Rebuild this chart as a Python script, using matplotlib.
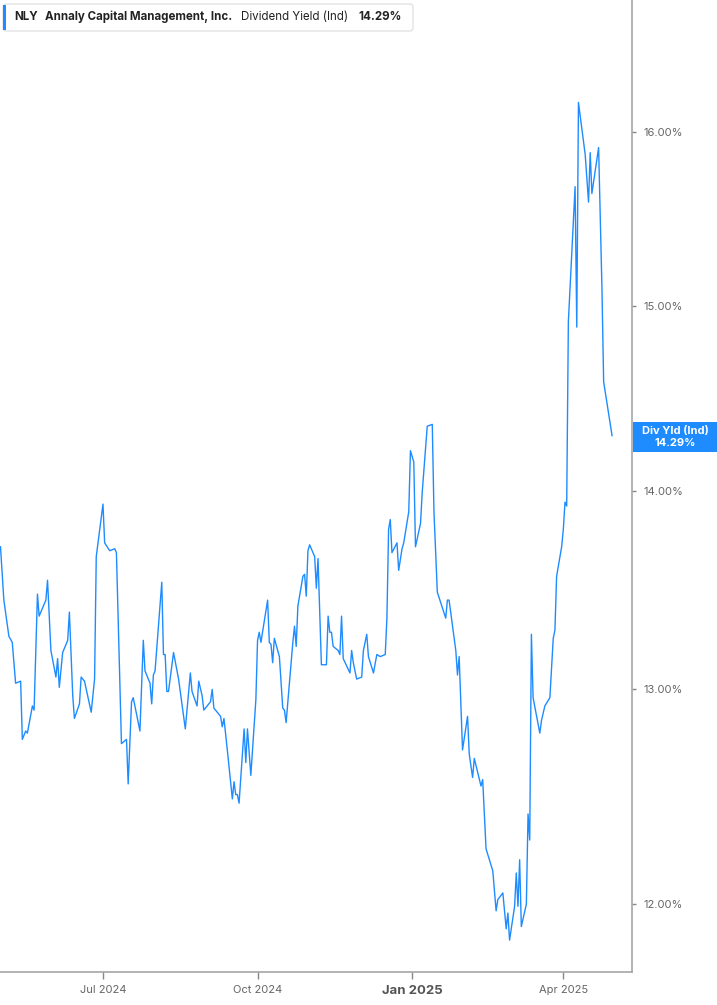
import matplotlib
matplotlib.use("Agg")
import matplotlib.pyplot as plt
import matplotlib.patches as mpatches
from matplotlib.ticker import FixedLocator, NullLocator, FuncFormatter
from matplotlib.transforms import IdentityTransform
import pandas as pd

plt.rcParams["font.family"] = ["Inter", "DejaVu Sans"]

W, H = 717, 1005
LINE_COLOR = "#1e8cff"

dates = [
    "2024-05-01", "2024-05-03", "2024-05-06", "2024-05-08", "2024-05-10", "2024-05-13", "2024-05-14",
    "2024-05-16", "2024-05-17", "2024-05-20", "2024-05-21", "2024-05-23", "2024-05-24", "2024-05-28",
    "2024-05-29", "2024-05-31", "2024-06-03", "2024-06-04", "2024-06-05", "2024-06-07", "2024-06-10",
    "2024-06-11", "2024-06-13", "2024-06-14", "2024-06-17", "2024-06-18", "2024-06-20", "2024-06-24",
    "2024-06-26", "2024-06-27", "2024-07-01", "2024-07-02", "2024-07-05", "2024-07-08", "2024-07-09",
    "2024-07-12", "2024-07-15", "2024-07-16", "2024-07-18", "2024-07-19", "2024-07-23", "2024-07-25",
    "2024-07-26", "2024-07-29", "2024-07-30", "2024-07-31", "2024-08-01", "2024-08-05", "2024-08-06",
    "2024-08-07", "2024-08-08", "2024-08-09", "2024-08-12", "2024-08-15", "2024-08-19", "2024-08-22",
    "2024-08-23", "2024-08-26", "2024-08-27", "2024-08-29", "2024-08-30", "2024-09-03", "2024-09-04",
    "2024-09-05", "2024-09-09", "2024-09-10", "2024-09-11", "2024-09-13", "2024-09-16", "2024-09-17",
    "2024-09-18", "2024-09-19", "2024-09-20", "2024-09-23", "2024-09-24", "2024-09-25", "2024-09-27",
    "2024-09-30", "2024-10-01", "2024-10-02", "2024-10-03", "2024-10-07", "2024-10-08", "2024-10-09",
    "2024-10-10", "2024-10-11", "2024-10-14", "2024-10-16", "2024-10-17", "2024-10-18", "2024-10-22",
    "2024-10-23", "2024-10-24", "2024-10-25", "2024-10-28", "2024-10-29", "2024-10-30", "2024-10-31",
    "2024-11-01", "2024-11-04", "2024-11-05", "2024-11-06", "2024-11-08", "2024-11-11", "2024-11-12",
    "2024-11-13", "2024-11-14", "2024-11-15", "2024-11-18", "2024-11-19", "2024-11-20", "2024-11-21",
    "2024-11-25", "2024-11-26", "2024-11-27", "2024-11-29", "2024-12-02", "2024-12-03", "2024-12-05",
    "2024-12-06", "2024-12-09", "2024-12-11", "2024-12-13", "2024-12-16", "2024-12-17", "2024-12-18",
    "2024-12-19", "2024-12-20", "2024-12-23", "2024-12-24", "2024-12-26", "2024-12-27", "2024-12-30",
    "2024-12-31", "2025-01-02", "2025-01-03", "2025-01-06", "2025-01-07", "2025-01-10", "2025-01-13",
    "2025-01-14", "2025-01-16", "2025-01-21", "2025-01-22", "2025-01-23", "2025-01-27", "2025-01-28",
    "2025-01-29", "2025-01-31", "2025-02-03", "2025-02-04", "2025-02-06", "2025-02-07", "2025-02-11",
    "2025-02-12", "2025-02-14", "2025-02-18", "2025-02-20", "2025-02-21", "2025-02-24", "2025-02-26",
    "2025-02-27", "2025-02-28", "2025-03-03", "2025-03-04", "2025-03-05", "2025-03-06", "2025-03-07",
    "2025-03-10", "2025-03-11", "2025-03-12", "2025-03-13", "2025-03-14", "2025-03-18", "2025-03-19",
    "2025-03-21", "2025-03-24", "2025-03-26", "2025-03-27", "2025-03-28", "2025-03-31", "2025-04-01",
    "2025-04-02", "2025-04-03", "2025-04-04", "2025-04-08", "2025-04-09", "2025-04-10", "2025-04-14",
    "2025-04-16", "2025-04-17", "2025-04-18", "2025-04-22", "2025-04-24", "2025-04-25", "2025-04-30",
]

div_yield = [
    13.71, 13.44, 13.26, 13.23, 13.03, 13.04, 12.76,
    12.80, 12.79, 12.92, 12.90, 13.47, 13.36, 13.44,
    13.54, 13.19, 13.06, 13.15, 13.01, 13.18, 13.24,
    13.38, 12.97, 12.86, 12.93, 13.06, 13.04, 12.89,
    13.05, 13.66, 13.93, 13.73, 13.69, 13.70, 13.68,
    12.74, 12.76, 12.55, 12.94, 12.96, 12.80, 13.24,
    13.09, 13.03, 12.93, 13.07, 13.09, 13.53, 13.17,
    13.17, 12.99, 12.99, 13.18, 13.05, 12.81, 13.08,
    12.99, 12.92, 13.04, 12.97, 12.90, 12.94, 13.00,
    12.91, 12.87, 12.82, 12.86, 12.71, 12.48, 12.56,
    12.50, 12.50, 12.46, 12.81, 12.65, 12.81, 12.59,
    12.95, 13.24, 13.28, 13.23, 13.44, 13.23, 13.22,
    13.13, 13.25, 13.16, 12.91, 12.90, 12.84, 13.23,
    13.31, 13.21, 13.41, 13.56, 13.57, 13.46, 13.69,
    13.72, 13.66, 13.50, 13.65, 13.12, 13.12, 13.36,
    13.28, 13.28, 13.21, 13.19, 13.17, 13.36, 13.15,
    13.08, 13.19, 13.13, 13.05, 13.06, 13.19, 13.27,
    13.16, 13.08, 13.17, 13.16, 13.17, 13.35, 13.80,
    13.85, 13.68, 13.73, 13.59, 13.70, 13.73, 13.89,
    14.21, 14.15, 13.71, 13.83, 13.99, 14.34, 14.35,
    13.89, 13.48, 13.35, 13.44, 13.44, 13.19, 13.07,
    13.16, 12.71, 12.87, 12.69, 12.58, 12.67, 12.54,
    12.57, 12.25, 12.15, 11.97, 12.02, 12.05, 11.89,
    11.96, 11.84, 11.99, 12.14, 11.99, 12.20, 11.90,
    12.00, 12.41, 12.29, 13.27, 12.96, 12.79, 12.85,
    12.92, 12.96, 13.25, 13.29, 13.56, 13.71, 13.80,
    13.94, 13.92, 14.91, 15.68, 14.88, 16.18, 15.87,
    15.59, 15.88, 15.64, 15.91, 15.09, 14.58, 14.29,
]

y_ticks = [12, 13, 14, 15, 16]
x_tick_dates = ["2024-07-01", "2024-10-01", "2025-01-01", "2025-04-01"]
x_tick_labels = ["Jul 2024", "Oct 2024", "Jan 2025", "Apr 2025"]

ticker_name = "NLY"
company = "Annaly Capital Management, Inc."
metric = "Dividend Yield (Ind)"
last_value = div_yield[-1]

x = pd.to_datetime(dates)

fig = plt.figure(figsize=(W / 100, H / 100), dpi=100)
ax = fig.add_axes([0, 33 / H, 632 / W, 972 / H])

ax.plot(x, div_yield, color=LINE_COLOR, linewidth=1.0)

ax.set_yscale("log")
ax.set_ylim(11.70, 16.81)
ax.yaxis.set_major_locator(FixedLocator(y_ticks))
ax.yaxis.set_minor_locator(NullLocator())
ax.yaxis.set_major_formatter(FuncFormatter(lambda v, p: f"{v:.2f}%"))
ax.yaxis.tick_right()

ax.set_xlim(pd.Timestamp("2024-04-30 17:00"), pd.Timestamp("2025-05-11 21:00"))
ax.set_xticks(pd.to_datetime(x_tick_dates))
ax.set_xticklabels(x_tick_labels)
ax.xaxis.set_minor_locator(NullLocator())

for side in ["left", "top"]:
    ax.spines[side].set_visible(False)
for side in ["right", "bottom"]:
    ax.spines[side].set_color("#a6a6a6")
    ax.spines[side].set_linewidth(1.2)

ax.tick_params(axis="y", length=3, width=1, color="#888888", labelcolor="#666666", labelsize=8, pad=5)
ax.tick_params(axis="x", length=5, width=1, color="#888888", labelcolor="#666666", labelsize=8, pad=4)
for lbl in ax.get_xticklabels():
    if lbl.get_text().startswith("Jan"):
        lbl.set_fontweight("bold")
        lbl.set_fontsize(9.5)
        lbl.set_color("#555555")

# header box, pixel coords with y from top
def px(xp, yp):
    return xp, H - yp

box = mpatches.FancyBboxPatch(px(3, 31), 410, 27, boxstyle="round,pad=0,rounding_size=3",
                              facecolor="white", edgecolor="#e3e3e3", linewidth=1,
                              transform=IdentityTransform())
fig.patches.append(box)
bar = mpatches.Rectangle(px(3, 30), 3, 25, facecolor=LINE_COLOR, edgecolor="none",
                         transform=IdentityTransform())
fig.patches.append(bar)

hdr = dict(transform=IdentityTransform(), va="center", ha="left", fontsize=8.3, color="#222222")
fig.text(*px(14, 17), ticker_name, fontweight="bold", **hdr)
fig.text(*px(45, 17), company, fontweight="bold", **hdr)
fig.text(*px(241, 17), metric, **hdr)
fig.text(*px(358, 17), f"{last_value:.2f}%", fontweight="bold", **hdr)

# last value tag on the right axis
tag = mpatches.Rectangle(px(633, 452), 84, 30, facecolor=LINE_COLOR, edgecolor="none",
                         transform=IdentityTransform())
fig.patches.append(tag)
tg = dict(transform=IdentityTransform(), va="center", ha="center", fontsize=8,
          color="white", fontweight="bold")
fig.text(*px(675, 431), "Div Yld (Ind)", **tg)
fig.text(*px(675, 443), f"{last_value:.2f}%", **tg)

fig.savefig("out.png", dpi=100)
plt.close(fig)
